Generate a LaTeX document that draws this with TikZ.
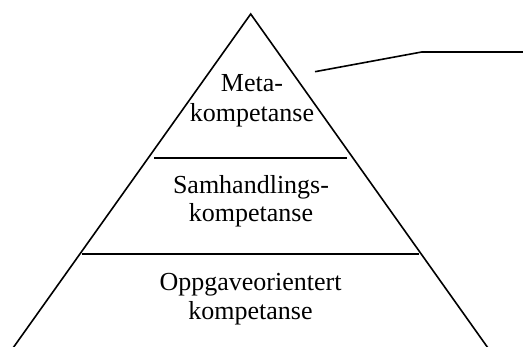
\documentclass[tikz,border=0pt]{standalone}
\usepackage{fontspec}
\setmainfont{Liberation Serif}
\begin{document}
\begin{tikzpicture}[x=1pt,y=-1pt,
  edge/.style={line width=1.6pt,line cap=butt},
  label/.style={anchor=base,inner sep=0pt,font=\fontsize{26}{29}\selectfont}]
\useasboundingbox (0,0) rectangle (523,347);
% pyramid outline (open at the bottom)
\coordinate (apex) at (250.7,14);
\coordinate (bl) at (13,348);
\coordinate (br) at (488,348);
\draw[edge] (bl) -- (apex) -- (br);
% level dividers
\coordinate (u1) at (154,158.3);
\coordinate (u2) at (346.7,158.3);
\coordinate (l1) at (82,254);
\coordinate (l2) at (419,254);
\draw[edge] (u1) -- (u2);
\draw[edge] (l1) -- (l2);
% callout line
\coordinate (c1) at (315,71.7);
\coordinate (c2) at (421.7,52);
\coordinate (c3) at (523,52);
\draw[edge] (c1) -- (c2) -- (c3);
% level labels
\node[label] (meta1) at (252,91.7) {Meta-};
\node[label] (meta2) at (252,121.2) {kompetanse};
\node[label] (sam1) at (251,193.3) {Samhandlings-};
\node[label] (sam2) at (251,221.9) {kompetanse};
\node[label] (opp1) at (250.5,290.8) {Oppgaveorientert};
\node[label] (opp2) at (250.5,319.3) {kompetanse};
\end{tikzpicture}
\end{document}
